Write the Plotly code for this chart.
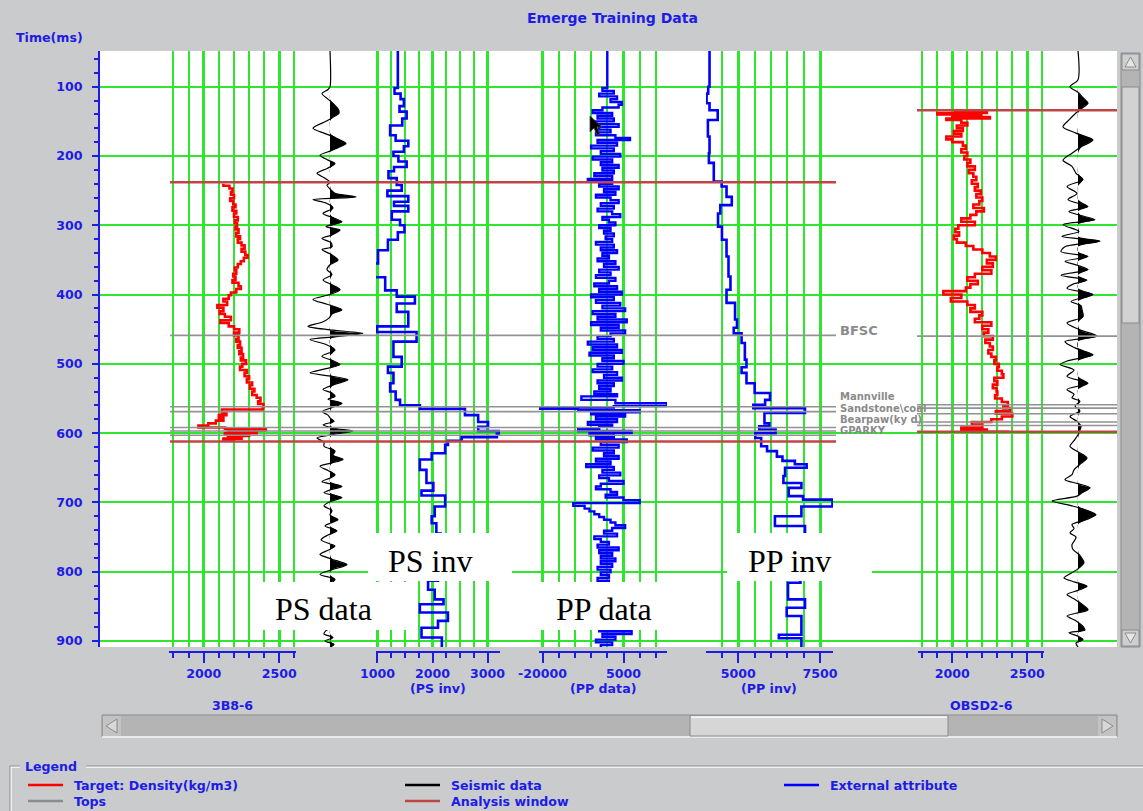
import plotly.graph_objects as go

# ---------------------------------------------------------------------------
# Values (time in ms)
# ---------------------------------------------------------------------------
time_ticks = [100, 200, 300, 400, 500, 600, 700, 800, 900]

# Density log, well 3B8-6 (kg/m3)
den1_time = [240, 243, 247, 252, 256, 261, 265, 270, 274, 279,
             283, 288, 293, 297, 302, 306, 311, 316, 320, 325,
             329, 334, 338, 343, 347, 352, 356, 361, 365, 370,
             374, 379, 383, 388, 392, 397, 401, 406, 410, 415,
             419, 424, 428, 432, 437, 441, 446, 450, 455, 459,
             464, 468, 473, 477, 482, 486, 491, 495, 500, 504,
             509, 513, 518, 522, 527, 531, 536, 540, 545, 549,
             554, 558, 563, 566, 570, 574, 578, 582, 586, 589,
             592, 594, 596, 598, 600, 602, 604, 606, 608, 610,
             613]
den1_value = [2130, 2170, 2190, 2180, 2200, 2175, 2195, 2210, 2190, 2215,
              2200, 2225, 2205, 2220, 2210, 2230, 2215, 2240, 2225, 2250,
              2270, 2250, 2275, 2290, 2265, 2245, 2225, 2205, 2215, 2195,
              2210, 2190, 2230, 2245, 2215, 2180, 2165, 2130, 2155, 2090,
              2130, 2105, 2140, 2180, 2110, 2165, 2200, 2235, 2200, 2230,
              2215, 2240, 2225, 2250, 2235, 2260, 2245, 2280, 2255, 2240,
              2285, 2270, 2300, 2285, 2320, 2305, 2335, 2320, 2350, 2375,
              2360, 2395, 2390, 2120, 2150, 2100, 2130, 2080, 2030, 1965,
              2140, 2410, 2160, 2350, 2140, 2300, 2160, 2250, 2130, 2200,
              2200]

# Density log, well OBSD2-6 (kg/m3)
den2_time = [134, 136, 138, 140, 142, 144, 146, 148, 152, 156,
             160, 164, 168, 172, 176, 180, 185, 190, 195, 200,
             205, 210, 215, 220, 225, 230, 235, 240, 245, 250,
             255, 260, 265, 270, 275, 280, 285, 290, 295, 300,
             305, 310, 315, 320, 325, 330, 335, 340, 345, 350,
             355, 360, 365, 370, 375, 380, 385, 390, 395, 400,
             405, 410, 415, 420, 425, 430, 435, 440, 445, 450,
             455, 460, 465, 470, 475, 480, 485, 490, 495, 500,
             505, 510, 515, 520, 525, 530, 535, 540, 545, 550,
             555, 560, 564, 568, 572, 576, 580, 584, 588, 592,
             595, 598]
den2_value = [2020, 2230, 1900, 2190, 2000, 2250, 1960, 2060, 2100, 2030,
              2070, 2010, 2060, 1960, 2000, 2070, 2090, 2060, 2100, 2080,
              2120, 2100, 2150, 2110, 2140, 2160, 2130, 2170, 2150, 2190,
              2160, 2200, 2180, 2140, 2210, 2160, 2120, 2060, 2150, 2040,
              2020, 2045, 2010, 2030, 2090, 2140, 2200, 2250, 2290, 2230,
              2270, 2200, 2260, 2150, 2100, 2170, 2120, 2090, 1940, 2060,
              1990, 2100, 2150, 2120, 2200, 2180, 2150, 2260, 2200, 2240,
              2210, 2270, 2220, 2250, 2270, 2240, 2260, 2290, 2280, 2310,
              2300, 2330, 2340, 2280, 2300, 2270, 2295, 2300, 2285, 2330,
              2370, 2340, 2385, 2290, 2400, 2330, 2260, 2130, 2200, 2060,
              2230, 2380]

# PS inversion (blocky)
psinv_time = [48, 102, 110, 118, 128, 136, 146, 156, 170, 178,
              186, 194, 200, 208, 216, 222, 232, 242, 250, 258,
              266, 272, 280, 292, 300, 310, 321, 336, 355, 375,
              394, 403, 413, 425, 446, 454, 468, 490, 504, 513,
              528, 540, 552, 560, 565, 574, 584, 591, 597, 601,
              606, 611, 617, 629, 638, 653, 672, 683, 690, 706,
              720, 730, 745, 770, 790, 813, 826, 840, 847, 859,
              871, 881, 895, 909]
psinv_value = [1370, 1310, 1420, 1480, 1400, 1530, 1450, 1230, 1330, 1560,
               1480, 1290, 1380, 1530, 1300, 1200, 1350, 1440, 1180, 1560,
               1300, 1560, 1260, 1410, 1490, 1370, 1190, 1010, 920, 1140,
               1350, 1680, 1350, 1560, 985, 1710, 1290, 1440, 1190, 1290,
               1230, 1330, 1410, 1770, 2590, 2830, 3010, 2830, 3230, 3170,
               2530, 2280, 2230, 1985, 1770, 1890, 2015, 1800, 2230, 2040,
               1985, 2070, 2150, 1950, 2100, 1920, 2040, 2200, 1770, 2280,
               2100, 1800, 2170, 2170]

# PP seismic data as external attribute
ppdata_time = [48, 98, 102, 106, 110, 114, 118, 122, 126, 130,
               134, 138, 142, 146, 150, 154, 158, 162, 166, 170,
               174, 177, 181, 185, 189, 193, 197, 201, 205, 209,
               213, 217, 221, 225, 229, 233, 236, 240, 244, 248,
               252, 256, 260, 264, 268, 272, 276, 280, 284, 288,
               292, 296, 300, 304, 308, 312, 316, 320, 324, 328,
               332, 336, 340, 344, 348, 352, 356, 360, 364, 368,
               372, 376, 380, 384, 388, 392, 396, 400, 404, 408,
               412, 416, 420, 424, 428, 432, 436, 440, 444, 448,
               452, 456, 460, 464, 468, 472, 476, 480, 484, 488,
               492, 496, 500, 504, 508, 512, 516, 520, 524, 528,
               532, 536, 540, 544, 547, 552, 557, 561, 563, 565,
               567, 570, 573, 576, 580, 584, 588, 591, 594, 597,
               600, 603, 606, 609, 613, 617, 621, 625, 629, 633,
               637, 641, 645, 649, 653, 657, 661, 665, 669, 673,
               677, 681, 685, 689, 693, 697, 701, 705, 709, 713,
               717, 721, 725, 729, 733, 737, 741, 745, 749, 753,
               757, 761, 765, 769, 773, 777, 781, 785, 789, 793,
               797, 801, 805, 809, 813, 830, 850, 870, 882, 886,
               890, 894, 898, 902, 906, 909]
ppdata_value = [0, 0, -1500, 2000, -2500, 3000, 1000, 4500, 3500, -1500,
                -4500, 1500, -3000, 2000, -4000, 3500, -2500, 1000, -3500, 2500,
                7000, -3000, 3000, -5000, 2000, -2000, 4000, -4500, 1500, -2000,
                3500, -1500, 2000, -4000, 1500, -6000, 1500, -2500, 3500, -1000,
                2500, -3500, 1000, 3500, -2000, 2000, -3000, 1500, 4000, -1500,
                500, 2500, -2500, 1000, -1000, 2000, -500, 1500, -3500, 2000,
                -2000, 3000, -1500, 500, -3000, 2500, -1000, 3500, -2500, 1000,
                -3500, 2500, 500, -4000, 3000, -2500, 4500, -5000, 2000, -3500,
                4000, -1500, 5500, -4500, 2500, -3000, 6000, -5000, 3500, -2000,
                5500, 1000, -3000, 2000, -6000, 3000, -4500, 4500, -5500, 2000,
                -1500, 5000, -3000, 1500, -4500, 3000, -1000, 4500, -3000, 2000,
                -2500, 1000, -4000, 3000, -8000, 2500, 18500, 2000, -21500, -9000,
                10000, -5000, 5500, -3500, 3000, -6000, 1500, -2500, -9000, 7500,
                -5500, 2000, -3500, 6000, -2000, 3500, -4500, 2000, -1000, 3500,
                -3500, 1000, -6500, 2000, -1500, 4000, -2500, 500, 5000, -2000,
                -3500, 1000, 3000, -500, 5000, 10000, -10500, -7000, -5500, -4000,
                -2500, -1000, 1000, 2500, 5500, 1500, -1000, 3000, -4000, -2000,
                500, -3000, 3500, -2500, 1500, -2000, 2500, -2000, 1500, -3000,
                1000, -2000, 500, -3000, 500, -1500, 1500, -500, -2500, 7500,
                -1500, 2500, -3500, 1500, -2000, -2000]

# PP inversion (blocky)
ppinv_time = [48, 100, 110, 124, 134, 148, 172, 196, 210, 237,
              244, 259, 271, 283, 302, 321, 345, 374, 393, 412,
              436, 448, 456, 470, 494, 505, 513, 528, 542, 552,
              559, 564, 571, 586, 590, 595, 600, 607, 619, 626,
              634, 640, 645, 650, 662, 672, 679, 691, 696, 706,
              720, 734, 742, 760, 790, 816, 840, 852, 864, 891,
              896, 909]
ppinv_value = [4120, 4080, 4030, 4120, 4370, 4070, 4120, 4100, 4250, 4490,
               4640, 4800, 4450, 4380, 4500, 4640, 4700, 4760, 4640, 4900,
               4960, 4860, 5100, 5200, 5250, 5100, 5250, 5500, 5970, 5820,
               5460, 7040, 5800, 5950, 5640, 6140, 5520, 5700, 5880, 6180,
               6350, 6730, 7090, 6430, 6380, 6930, 6540, 6980, 7880, 6930,
               6120, 7040, 7040, 6700, 6900, 6520, 7040, 6480, 6930, 6240,
               6930, 6930]

# Seismic trace at 3B8-6 (relative amplitude)
s1_time = [48, 100, 104, 110, 118, 124, 132, 138, 144, 150,
           160, 167, 174, 182, 188, 194, 199, 206, 211, 218,
           225, 232, 238, 242, 249, 254, 259, 263, 268, 275,
           283, 289, 295, 302, 307, 314, 319, 325, 331, 335,
           342, 350, 357, 364, 371, 379, 386, 393, 400, 407,
           414, 422, 428, 434, 440, 446, 451, 456, 461, 465,
           472, 480, 489, 495, 501, 507, 513, 518, 523, 530,
           537, 542, 547, 551, 557, 563, 569, 574, 578, 583,
           588, 593, 597, 602, 607, 613, 619, 626, 632, 638,
           643, 648, 654, 660, 665, 670, 677, 682, 686, 693,
           699, 705, 712, 718, 725, 730, 734, 741, 747, 754,
           760, 763, 769, 775, 782, 790, 797, 804, 811, 818,
           825, 832, 840, 848, 855, 862, 870, 878, 885, 890,
           895, 900, 905, 909]
s1_amp = [0, 0, -2, -8, -2, 3, 8, 9, 3, -4,
          -17, -6, 6, 16, 8, -2, -10, -2, 5, -3,
          -13, -5, 0, -3, 1, 5, 26, -17, -4, 3,
          -7, 3, 12, -4, 10, 2, -8, 1, 2, -8,
          1, 8, 0, -3, 2, -7, 2, 10, 0, -17,
          -3, 12, 2, -1, -8, -22, 0, 33, 5, -20,
          -4, 5, -8, 2, 10, -4, -20, 2, 18, 4,
          -7, 2, 5, -2, 12, 2, -8, -2, 0, 4,
          -7, 4, 23, 3, -13, -6, -6, 5, 3, 13,
          2, -10, -2, 5, 0, -8, 12, 0, -6, 12,
          0, -6, 2, 0, 8, 0, -5, 7, -2, -9,
          0, 5, -2, -10, 2, 17, 2, -10, 5, 0,
          -6, 7, 0, -8, 6, 0, -7, 5, -4, -6,
          3, -5, 4, 0]

# Seismic trace at OBSD2-6 (relative amplitude)
s2_time = [48, 90, 100, 108, 116, 124, 131, 138, 148, 158,
           167, 177, 186, 196, 206, 215, 225, 234, 244, 254,
           263, 273, 280, 286, 292, 299, 309, 316, 323, 331,
           338, 345, 352, 358, 364, 372, 379, 385, 391, 400,
           410, 416, 422, 432, 441, 451, 460, 468, 477, 487,
           496, 501, 509, 518, 528, 537, 544, 549, 554, 561,
           568, 576, 583, 590, 595, 600, 609, 619, 627, 636,
           645, 653, 660, 667, 673, 679, 686, 691, 698, 705,
           711, 718, 725, 732, 738, 744, 750, 754, 761, 768,
           775, 781, 787, 797, 803, 809, 815, 821, 827, 833,
           840, 847, 855, 860, 864, 870, 874, 879, 884, 888,
           893, 898, 903, 909]
s2_amp = [0, 0, -8, 0, 5, 10, 4, -2, -9, -15,
          -2, 15, 4, -6, -15, -6, -2, 5, -11, -1,
          -10, 10, -9, 3, 17, -15, 1, -16, 22, -13,
          -17, 10, -13, 0, 10, -17, 9, -5, -11, 15,
          -7, 3, 4, 5, -11, 2, 19, -13, -3, 15,
          -11, -18, -4, -11, 10, -11, -4, -6, 2, -3,
          2, -8, -1, 3, 2, 1, -3, -8, 0, 9,
          2, -4, -6, -13, 0, 12, 4, -1, -26, -6,
          8, 18, 8, -6, -4, -8, -2, -3, -6, -5,
          1, 4, 6, -1, -8, -14, -3, 9, 0, -11,
          -3, 4, 10, -2, -11, -3, 1, 5, 7, -9,
          0, 5, -2, 0]

# Tops and analysis windows
tops1_time = [459, 562, 569, 592, 597, 603]
window1_time = [238, 612]
tops2_time = [460, 559, 564, 572, 584, 589]
window2_time = [134, 598]
top_names = ["BFSC", "Mannville", "Sandstone\\coal", "Bearpaw(ky d)", "GPARKY"]

# Axis tick labels of the tracks
den_ticks, den_labels = [2000, 2500], ["2000", "2500"]
psinv_ticks, psinv_labels = [1000, 2000, 3000], ["1000", "2000", "3000"]
ppdata_ticks, ppdata_labels = [-20000, 5000], ["-20000", "5000"]
ppinv_ticks, ppinv_labels = [5000, 7500], ["5000", "7500"]

legend_names = ["Target: Density(kg/m3)", "Tops", "Seismic data",
                "Analysis window", "External attribute"]

# ---------------------------------------------------------------------------
# Styling / page geometry
# ---------------------------------------------------------------------------
W, H = 1143, 811
PL, PR, PT, PB = 100, 1117, 51, 652     # plotting region in page pixels
BG = "#c9cbcc"
BLUE_TXT = "#1c1ce6"
GREEN = "#2ee62e"
CURVE_BLUE = "#0000ff"
RED = "#ff0000"
WIN_RED = "#c04646"
TOP_GRAY = "#929292"
FONT = "DejaVu Sans, Verdana, sans-serif"
BOLD = dict(family=FONT, size=12.6, color=BLUE_TXT, weight="bold")
TITLE = dict(family=FONT, size=14, color=BLUE_TXT, weight="bold")


def fx(p):
    return (p - PL) / (PR - PL)


def fy(p):
    return (PB - p) / (PB - PT)


def track_axis(px0, px1, rng, tv, tt, minor_dtick):
    return dict(
        domain=[fx(px0), fx(px1)], range=rng, anchor="free", position=0,
        tickmode="array", tickvals=tv, ticktext=tt,
        ticks="outside", ticklen=10, tickwidth=2, tickcolor=BLUE_TXT,
        showline=True, linecolor=BLUE_TXT, linewidth=2,
        showgrid=True, gridcolor=GREEN, gridwidth=2.6,
        minor=dict(dtick=minor_dtick, tick0=0, ticks="outside", ticklen=5,
                   tickwidth=2, tickcolor=BLUE_TXT, showgrid=True,
                   gridcolor=GREEN, gridwidth=1.5),
        zeroline=False, tickfont=BOLD, fixedrange=True,
    )


def hidden_axis(px0, px1, rng):
    return dict(domain=[fx(px0), fx(px1)], range=rng, anchor="free",
                position=0, visible=False, fixedrange=True)


fig = go.Figure()

# empty trace keeps the full-width base subplot alive
fig.add_trace(go.Scatter(x=[None], y=[None], xaxis="x", yaxis="y",
                         showlegend=False, hoverinfo="skip"))

# density 3B8-6
fig.add_trace(go.Scatter(x=den1_value, y=den1_time, xaxis="x2", yaxis="y",
                         mode="lines", line=dict(color=RED, width=2.6, shape="vh")))

# seismic trace 3B8-6 with filled positive lobes
s1_pos = [a if a > 0 else 0 for a in s1_amp]
fig.add_trace(go.Scatter(x=s1_pos, y=s1_time, xaxis="x3", yaxis="y", mode="lines",
                         line=dict(color="black", width=0, shape="spline", smoothing=0.8),
                         fill="tozerox", fillcolor="black"))
fig.add_trace(go.Scatter(x=s1_amp, y=s1_time, xaxis="x3", yaxis="y", mode="lines",
                         line=dict(color="black", width=1.2, shape="spline", smoothing=0.8)))

# PS inversion
fig.add_trace(go.Scatter(x=psinv_value, y=psinv_time, xaxis="x4", yaxis="y",
                         mode="lines", line=dict(color=CURVE_BLUE, width=2.6, shape="vh")))

# PP data
fig.add_trace(go.Scatter(x=ppdata_value, y=ppdata_time, xaxis="x5", yaxis="y",
                         mode="lines", line=dict(color=CURVE_BLUE, width=2.4, shape="vh")))

# PP inversion
fig.add_trace(go.Scatter(x=ppinv_value, y=ppinv_time, xaxis="x6", yaxis="y",
                         mode="lines", line=dict(color=CURVE_BLUE, width=2.6, shape="vh")))

# density OBSD2-6
fig.add_trace(go.Scatter(x=den2_value, y=den2_time, xaxis="x7", yaxis="y",
                         mode="lines", line=dict(color=RED, width=2.6, shape="vh")))

# seismic trace OBSD2-6
s2_pos = [a if a > 0 else 0 for a in s2_amp]
fig.add_trace(go.Scatter(x=s2_pos, y=s2_time, xaxis="x8", yaxis="y", mode="lines",
                         line=dict(color="black", width=0, shape="spline", smoothing=0.8),
                         fill="tozerox", fillcolor="black"))
fig.add_trace(go.Scatter(x=s2_amp, y=s2_time, xaxis="x8", yaxis="y", mode="lines",
                         line=dict(color="black", width=1.2, shape="spline", smoothing=0.8)))

shapes = []
annotations = []


def rect(x0, x1, y0, y1, fill, line_color=None, lw=0, layer="above"):
    shapes.append(dict(type="rect", xref="paper", yref="paper",
                       x0=fx(x0), x1=fx(x1), y0=fy(y1), y1=fy(y0),
                       fillcolor=fill, layer=layer,
                       line=dict(color=line_color or fill, width=lw)))


def seg(x0, y0, x1, y1, color, lw=1):
    shapes.append(dict(type="line", xref="paper", yref="paper",
                       x0=fx(x0), x1=fx(x1), y0=fy(y0), y1=fy(y1),
                       layer="above", line=dict(color=color, width=lw)))


def poly(points, fill, line_color, lw=1):
    path = "M " + " L ".join(f"{fx(a):.5f},{fy(b):.5f}" for a, b in points) + " Z"
    shapes.append(dict(type="path", xref="paper", yref="paper", path=path,
                       fillcolor=fill, layer="above",
                       line=dict(color=line_color, width=lw)))


def text(s, x, y, font=BOLD, xanchor="center", yanchor="middle"):
    annotations.append(dict(text=s, x=fx(x), y=fy(y), xref="paper", yref="paper",
                            showarrow=False, font=font, xanchor=xanchor,
                            yanchor=yanchor))


# white plotting region
rect(PL, PR, PT, 647, "white", layer="below")

# tops and analysis windows
for t in tops1_time:
    shapes.append(dict(type="line", xref="paper", yref="y", x0=fx(170), x1=fx(836),
                       y0=t, y1=t, layer="above", line=dict(color=TOP_GRAY, width=1.6)))
for t in window1_time:
    shapes.append(dict(type="line", xref="paper", yref="y", x0=fx(170), x1=fx(836),
                       y0=t, y1=t, layer="above", line=dict(color=WIN_RED, width=2.6)))
for t in tops2_time:
    shapes.append(dict(type="line", xref="paper", yref="y", x0=fx(917), x1=fx(1117),
                       y0=t, y1=t, layer="above", line=dict(color=TOP_GRAY, width=1.6)))
for t in window2_time:
    shapes.append(dict(type="line", xref="paper", yref="y", x0=fx(917), x1=fx(1117),
                       y0=t, y1=t, layer="above", line=dict(color=WIN_RED, width=2.6)))

# top names beside the right end of the left-hand lines
TOPFONT = dict(family=FONT, size=13, color="#8a8a8a", weight="bold")
SMALLTOP = dict(family=FONT, size=10, color="#8a8a8a", weight="bold")
text(top_names[0], 838, 330, font=TOPFONT, xanchor="left")
for name, ypix in zip(top_names[1:], [397, 408, 419, 430]):
    text(name, 838, ypix, font=SMALLTOP, xanchor="left")

# track captions in white boxes
SERIF = dict(family="Liberation Serif, Times New Roman, serif", size=32, color="black")
for label, x0, x1, y0, y1, cx, cy in [
    ("PS inv", 368, 512, 533, 581, 430, 561),
    ("PP inv", 727, 872, 533, 581, 789, 561),
    ("PS data", 254, 418, 582, 630, 323, 609),
    ("PP data", 535, 680, 582, 630, 604, 609),
]:
    rect(x0, x1, y0, y1, "white")
    text(label, cx, cy, font=SERIF)

# axis captions
text("Emerge Training Data", 612, 18, font=TITLE)
text("Time(ms)", 14, 37, xanchor="left")
text("(PS inv)", 438, 688)
text("(PP data)", 603, 688)
text("(PP inv)", 769, 688)
text("3B8-6", 232, 705)
text("OBSD2-6", 981, 705)

# mouse pointer
poly([(590, 116), (590, 132), (594, 128), (597, 135), (600, 134), (597, 127), (602, 127)],
     "black", "#404040", 0.8)

# vertical scroll bar
rect(1117, 1143, 51, 648, BG)
rect(1121, 1140, 53, 647, "#b4b4b4", "#8a8a8a", 1)
rect(1122, 1139, 54, 70, "#cfcfcf", "#8a8a8a", 1)
poly([(1130.5, 57), (1125, 67), (1136, 67)], "#e6e6e6", "#8a8a8a", 1)
rect(1122, 1139, 87, 323, "#d2d2d2", "#8a8a8a", 1)
rect(1122, 1139, 630, 646, "#cfcfcf", "#8a8a8a", 1)
poly([(1130.5, 643), (1125, 633), (1136, 633)], "#e6e6e6", "#8a8a8a", 1)

# horizontal scroll bar
rect(102, 1117, 715, 737, "#b4b4b4", "#8a8a8a", 1)
seg(102, 737, 1117, 737, "white", 1.5)
rect(103, 121, 716, 736, "#c3c3c3")
poly([(106, 726), (117, 719), (117, 733)], "#d8d8d8", "#8a8a8a", 1)
rect(690, 948, 716, 736, "#d6d6d6", "#8a8a8a", 1)
seg(691, 717, 947, 717, "white", 1.5)
rect(1098, 1116, 716, 736, "#c3c3c3")
poly([(1113, 726), (1102, 719), (1102, 733)], "#d8d8d8", "#8a8a8a", 1)

# legend frame and entries
seg(10, 766, 1143, 766, "#8a8a8a", 1)
seg(10, 767.2, 1143, 767.2, "white", 1)
seg(10, 766, 10, 811, "#8a8a8a", 1)
seg(11.2, 767, 11.2, 811, "white", 1)
rect(20, 86, 759, 773, BG)
text("Legend", 23, 766, xanchor="left")
legend_colors = [RED, "#8c8c8c", "#000000", WIN_RED, CURVE_BLUE]
legend_slots = [(28, 785), (28, 801), (405, 785), (405, 801), (784, 785)]
for name, color, (x0, y) in zip(legend_names, legend_colors, legend_slots):
    seg(x0, y, x0 + 35, y, color, 2.5)
    text(name, x0 + 44, y, xanchor="left")

fig.update_layout(
    width=W, height=H,
    margin=dict(l=PL, r=W - PR, t=PT, b=H - PB, pad=0),
    paper_bgcolor=BG, plot_bgcolor="rgba(0,0,0,0)",
    showlegend=False, hovermode=False,
    xaxis=dict(domain=[0, 1], range=[0, 1], visible=False, fixedrange=True),
    yaxis=dict(
        domain=[fy(647), 1], range=[908.7, 48.5], anchor="x",
        tickmode="array", tickvals=time_ticks, ticktext=[str(v) for v in time_ticks],
        ticks="outside", ticklen=6, tickwidth=2, tickcolor=BLUE_TXT,
        showline=True, linecolor=BLUE_TXT, linewidth=2,
        showgrid=True, gridcolor=GREEN, gridwidth=1.6,
        minor=dict(dtick=20, tick0=0, ticks="outside", ticklen=4, tickwidth=2,
                   tickcolor=BLUE_TXT, showgrid=False),
        zeroline=False, tickfont=BOLD, ticklabelstandoff=7, fixedrange=True,
    ),
    xaxis2=track_axis(168.5, 296, [1767, 2610], den_ticks, den_labels, 100),
    xaxis3=hidden_axis(298, 372, [-32, 42]),
    xaxis4=track_axis(376, 500, [973, 3227], psinv_ticks, psinv_labels, 250),
    xaxis5=track_axis(539, 667, [-21080, 18426], ppdata_ticks, ppdata_labels, 5000),
    xaxis6=track_axis(706, 833, [4012, 7896], ppinv_ticks, ppinv_labels, 500),
    xaxis7=track_axis(917.7, 1044, [1769, 2611], den_ticks, den_labels, 100),
    xaxis8=hidden_axis(1042, 1116, [-36, 38]),
    shapes=shapes,
    annotations=annotations,
)

fig.write_html("out.html")
